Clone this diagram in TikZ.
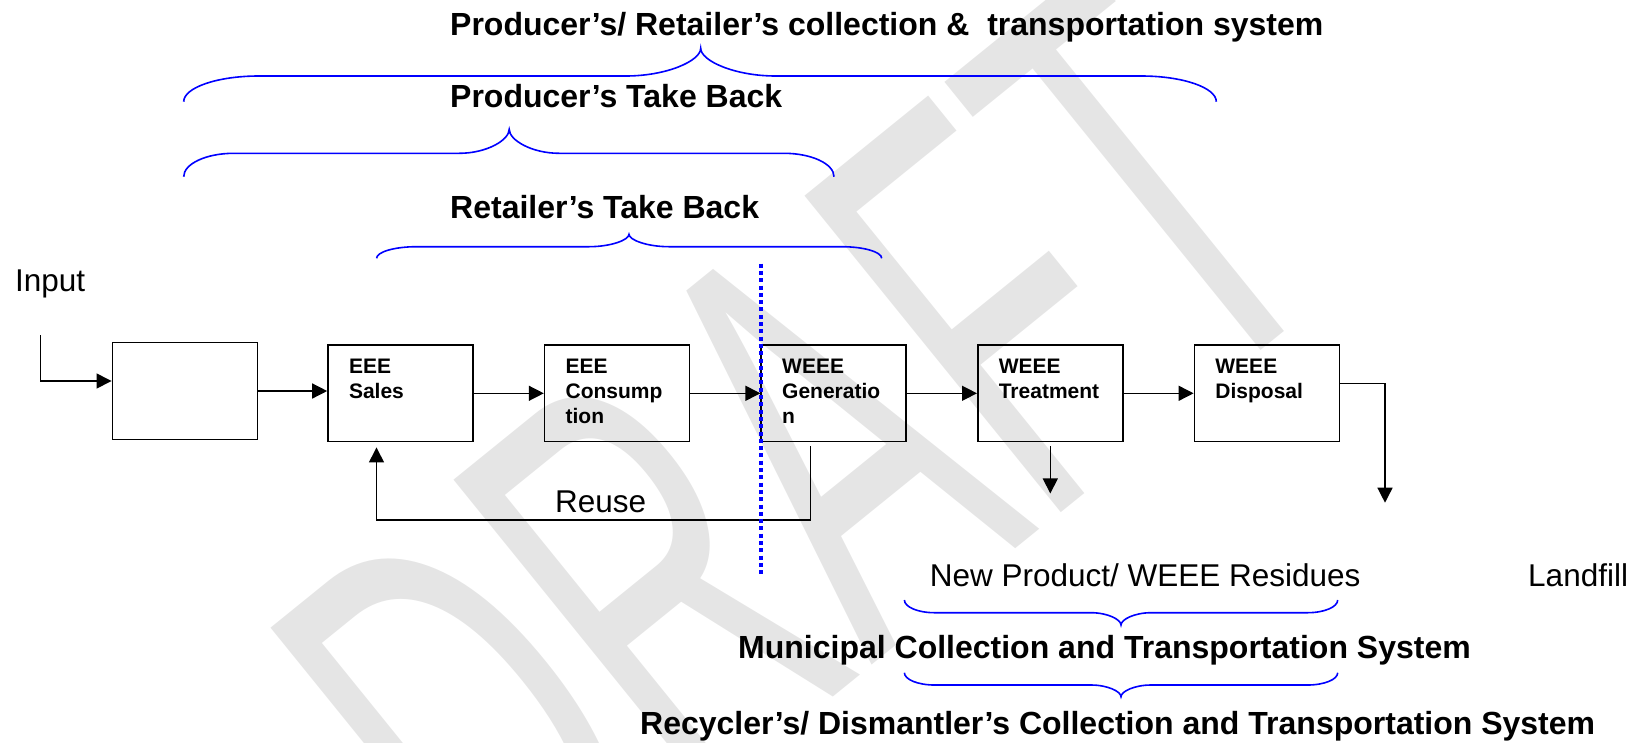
\documentclass[tikz,border=0pt]{standalone}
\usepackage{fontspec}
\usepackage{graphicx}
\setmainfont{Liberation Sans}
\usetikzlibrary{positioning,arrows.meta}

\definecolor{braceblue}{RGB}{0,0,255}

\tikzset{
  stage/.style={draw=black, line width=1.6pt, minimum width=145pt, minimum height=96.7pt,
    inner sep=0pt, text width=103pt, align=left, text height=15pt, text depth=54.5pt,
    font=\fontsize{21}{25}\selectfont\bfseries},
  flow/.style={line width=1.4pt, -{Triangle[length=15pt,width=15pt]}},
  bracecurve/.style={draw=braceblue, line width=1.6pt},
  heading/.style={anchor=base west, inner sep=0pt, font=\fontsize{32}{38}\selectfont\bfseries},
  plain/.style={anchor=base west, inner sep=0pt, font=\fontsize{31.5}{38}\selectfont},
}

% curly brace: xL, xTip, xR, yEnd, yFlat, yTip, corner
\newcommand{\curlybrace}[7]{%
  \draw[bracecurve] (#1,#4) .. controls (#1,{#4+0.55*(#5-#4)}) and ({#1+0.45*#7},#5) .. ({#1+#7},#5)
    -- ({#2-#7},#5) .. controls ({#2-0.45*#7},#5) and (#2,{#5+0.55*(#6-#5)}) .. (#2,#6)
    .. controls (#2,{#5+0.55*(#6-#5)}) and ({#2+0.45*#7},#5) .. ({#2+#7},#5)
    -- ({#3-#7},#5) .. controls ({#3-0.45*#7},#5) and (#3,{#4+0.55*(#5-#4)}) .. (#3,#4);}

\begin{document}
\begin{tikzpicture}[x=1pt, y=-1pt]
    \useasboundingbox (0,0) rectangle (1640,742);

    % watermark
    \node[rotate=39, text=gray!20, inner sep=0pt] (draft) at (800,462)
        {\scalebox{0.55}[1]{\fontsize{592}{592}\selectfont DRAFT}};

    % headings and braces
    \node[heading] (coll) at (450,35) {Producer’s/ Retailer’s collection \& \ transportation system};
    \curlybrace{183.7}{700.7}{1216.3}{101.7}{76}{48.3}{75}
    \node[heading] (prod) at (450,107.3) {Producer’s Take Back};
    \curlybrace{183.7}{509.2}{834}{176.7}{153.3}{129.3}{50}
    \node[heading] (ret) at (450,218.3) {Retailer’s Take Back};
    \curlybrace{376.6}{629}{881.7}{258.3}{246.7}{234.3}{40}

    % stages
    \node[plain] (input) at (15,291.7) {Input};
    \node[stage] (box0) at (184.85,391) {};
    \node[stage] (sales) at (400.5,393.3) {EEE\\Sales};
    \node[stage, right=70pt of sales] (cons) {EEE\\Consump\\tion};
    \node[stage, right=70pt of cons] (gen) {WEEE\\Generatio\\n};
    \node[stage, right=70pt of gen] (treat) {WEEE\\Treatment};
    \node[stage, right=70pt of treat] (disp) {WEEE\\Disposal};

    \coordinate (in) at (40.7,335);
    \coordinate (reuse) at (600,520);
    \coordinate (residue) at ([yshift=-51pt]treat.south);
    \coordinate (fill) at (1385,502.7);

    \draw[flow] (in) |- ([yshift=10pt]box0.west);
    \draw[flow] (box0) -- (box0 -| sales.west);
    \draw[flow] (sales) -- (cons);
    \draw[flow] (cons) -- (gen);
    \draw[flow] (gen) -- (treat);
    \draw[flow] (treat) -- (disp);
    \draw[flow] ([yshift=10pt]disp.east) -| (fill);
    \draw[flow] ([yshift=-4pt]treat.south) -- (residue);
    \draw[flow] ([xshift=-23pt,yshift=-4pt]gen.south) |- (reuse) -| ([xshift=-24pt,yshift=-5pt]sales.south);
    \node[plain] (reuselabel) at (555,512) {Reuse};

    % boundary
    \draw[braceblue, line width=4.5pt, dash pattern=on 4pt off 3.3pt] (761,263.6) -- (761,574);

    % outputs and bottom braces
    \node[plain] (newprod) at (929.6,586.7) {New Product/ WEEE Residues};
    \node[plain] (landfill) at (1528,586.7) {Landfill};
    \curlybrace{904.4}{1121}{1337.7}{600}{612.7}{625}{30}
    \node[heading] (muni) at (738,658.3) {Municipal Collection and Transportation System};
    \curlybrace{904.4}{1121}{1337.7}{672.7}{685}{696.7}{30}
    \node[heading] (recy) at (640,734) {Recycler’s/ Dismantler’s Collection and Transportation System};
\end{tikzpicture}
\end{document}
